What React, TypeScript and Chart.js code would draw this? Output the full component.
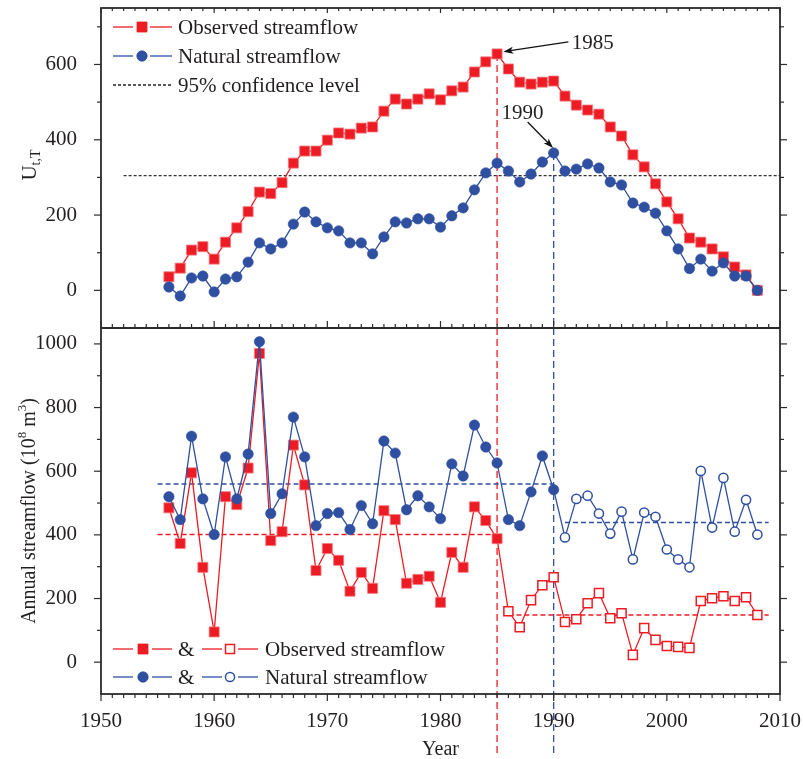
import React, { useEffect, useRef } from 'react';
import { Chart, registerables } from 'chart.js';

Chart.register(...registerables);

// ---------- data ----------
const years = [
  1956, 1957, 1958, 1959, 1960, 1961, 1962, 1963, 1964, 1965,
  1966, 1967, 1968, 1969, 1970, 1971, 1972, 1973, 1974, 1975,
  1976, 1977, 1978, 1979, 1980, 1981, 1982, 1983, 1984, 1985,
  1986, 1987, 1988, 1989, 1990, 1991, 1992, 1993, 1994, 1995,
  1996, 1997, 1998, 1999, 2000, 2001, 2002, 2003, 2004, 2005,
  2006, 2007, 2008,
];

// Mann-Kendall style statistic U(t,T)
const observedUt = [
  36, 59, 107, 116, 83, 128, 166, 209, 261, 257,
  286, 338, 370, 370, 399, 418, 415, 431, 434, 476,
  508, 495, 508, 522, 506, 530, 540, 580, 607, 628,
  588, 553, 548, 553, 556, 516, 492, 479, 468, 434,
  410, 360, 328, 283, 235, 190, 139, 128, 110, 89,
  62, 41, 0,
];
const naturalUt = [
  9, -15, 33, 38, -4, 30, 36, 75, 126, 110,
  126, 176, 208, 182, 166, 158, 126, 126, 97, 142,
  182, 179, 190, 190, 168, 198, 219, 267, 312, 338,
  317, 288, 309, 341, 365, 317, 322, 336, 325, 288,
  280, 232, 221, 205, 158, 110, 58, 83, 51, 73,
  38, 38, 0,
];

// Annual streamflow (10^8 m^3)
const observedFlow = [
  485, 373, 595, 298, 95, 520, 495, 610, 970, 382,
  410, 682, 557, 288, 357, 320, 223, 282, 232, 476,
  448, 248, 260, 270, 188, 345, 298, 488, 445, 388,
  160, 110, 195, 242, 267, 126, 135, 185, 217, 138,
  154, 23, 107, 70, 51, 48, 45, 192, 201, 207,
  192, 204, 148,
];
const naturalFlow = [
  520, 448, 710, 513, 401, 645, 513, 654, 1007, 467,
  529, 770, 645, 429, 467, 470, 417, 492, 435, 695,
  657, 479, 523, 488, 451, 623, 585, 745, 676, 626,
  448, 429, 535, 648, 542, 392, 513, 523, 467, 404,
  473, 323, 470, 457, 354, 323, 298, 601, 423, 579,
  410, 510, 401,
];

const observedBreakYear = 1985;
const naturalBreakYear = 1990;
const confidenceLevel = 305;
const confidenceSpan = [1952, 2010];

// mean levels: [startYear, endYear, value]
const observedMeanBefore = [1955, 1985, 401];
const observedMeanAfter = [1986, 2009, 148];
const naturalMeanBefore = [1955, 1990, 560];
const naturalMeanAfter = [1991, 2009, 439];

const xTickLabels = ['1950', '1960', '1970', '1980', '1990', '2000', '2010'];
const topTickLabels = ['0', '200', '400', '600'];
const bottomTickLabels = ['0', '200', '400', '600', '800', '1000'];

// ---------- styles ----------
const FONT = '"Liberation Serif", "Times New Roman", serif';
const TEXT = '#231f20';
const AXIS = '#2b2b2b';
const RED = '#ED1C24';
const BLUE = '#2F4FA0';

const pts = (vals: number[]) => years.map((y, i) => ({ x: y, y: vals[i] }));
const seg = (m: number[]) => [{ x: m[0], y: m[2] }, { x: m[1], y: m[2] }];

function drawArrow(ctx: CanvasRenderingContext2D, x1: number, y1: number, x2: number, y2: number) {
  const ang = Math.atan2(y2 - y1, x2 - x1);
  const len = 10, hw = 3.5;
  ctx.beginPath();
  ctx.moveTo(x1, y1);
  ctx.lineTo(x2 - Math.cos(ang) * len * 0.7, y2 - Math.sin(ang) * len * 0.7);
  ctx.stroke();
  ctx.beginPath();
  ctx.moveTo(x2, y2);
  ctx.lineTo(x2 - Math.cos(ang) * len + Math.sin(ang) * hw, y2 - Math.sin(ang) * len - Math.cos(ang) * hw);
  ctx.lineTo(x2 - Math.cos(ang) * len * 0.75, y2 - Math.sin(ang) * len * 0.75);
  ctx.lineTo(x2 - Math.cos(ang) * len - Math.sin(ang) * hw, y2 - Math.sin(ang) * len + Math.cos(ang) * hw);
  ctx.closePath();
  ctx.fill();
}

function drawRotated(ctx: CanvasRenderingContext2D, parts: { t: string; size: number; dy: number }[], cx: number, cy: number) {
  ctx.save();
  ctx.translate(cx, cy);
  ctx.rotate(-Math.PI / 2);
  ctx.textBaseline = 'middle';
  ctx.textAlign = 'left';
  const widths = parts.map((p) => {
    ctx.font = `${p.size}px ${FONT}`;
    return ctx.measureText(p.t).width;
  });
  let x = -widths.reduce((a, b) => a + b, 0) / 2;
  parts.forEach((p, i) => {
    ctx.font = `${p.size}px ${FONT}`;
    ctx.fillText(p.t, x, p.dy);
    x += widths[i];
  });
  ctx.restore();
}

function marker(ctx: CanvasRenderingContext2D, kind: 'rect' | 'circle', x: number, y: number, color: string, filled: boolean) {
  ctx.save();
  ctx.strokeStyle = color;
  ctx.fillStyle = filled ? color : '#fff';
  ctx.lineWidth = filled ? 0.8 : 1.5;
  ctx.setLineDash([]);
  ctx.beginPath();
  if (kind === 'rect') {
    const s = filled ? 10 : 9;
    ctx.rect(x - s / 2, y - s / 2, s, s);
  } else {
    ctx.arc(x, y, filled ? 5.2 : 4.6, 0, Math.PI * 2);
  }
  ctx.fill();
  ctx.stroke();
  ctx.restore();
}

const zeroPad = (s: any) => {
  s.paddingTop = 0;
  s.paddingBottom = 0;
  s.paddingLeft = 0;
  s.paddingRight = 0;
};

const decorPlugin = {
  id: 'decor',
  afterDraw(chart: any) {
    const ctx: CanvasRenderingContext2D = chart.ctx;
    const xs = chart.scales.x;
    const yt = chart.scales.yTop;
    const yb = chart.scales.yBot;
    const { left: L, right: R, top: T, bottom: B } = chart.chartArea;
    ctx.save();
    ctx.setLineDash([]);
    ctx.strokeStyle = AXIS;
    const line = (x1: number, y1: number, x2: number, y2: number) => {
      ctx.beginPath();
      ctx.moveTo(x1, y1);
      ctx.lineTo(x2, y2);
      ctx.stroke();
    };
    // y ticks (outward on left and right)
    ctx.lineWidth = 1.2;
    for (const s of [yt, yb]) {
      for (const t of s.ticks) {
        const v = t.value;
        if (v <= s.min || v >= s.max || v % 100 !== 0) continue;
        const p = s.getPixelForValue(v);
        const len = v % 200 === 0 ? 7 : 4;
        line(L - len, p, L, p);
        line(R, p, R + len, p);
      }
    }
    // x ticks
    for (let yr = xs.min; yr <= xs.max; yr++) {
      const p = xs.getPixelForValue(yr);
      const major = yr % 10 === 0;
      line(p, B, p, B + (major ? 7 : 4));
      line(p, yt.bottom, p, yt.bottom - (major ? 7 : 4));
      line(p, T, p, T + (major ? 5 : 3));
    }
    // frame
    ctx.lineWidth = 1.8;
    ctx.strokeRect(L, T, R - L, B - T);
    line(L, yt.bottom, R, yt.bottom);

    // y axis titles
    ctx.fillStyle = TEXT;
    drawRotated(ctx, [
      { t: 'U', size: 21, dy: 0 },
      { t: 't,T', size: 14, dy: 6 },
    ], 30, (yt.top + yt.bottom) / 2 - 3);
    drawRotated(ctx, [
      { t: 'Annual streamflow (10', size: 20, dy: 0 },
      { t: '8', size: 13, dy: -7 },
      { t: ' m', size: 20, dy: 0 },
      { t: '3', size: 13, dy: -7 },
      { t: ')', size: 20, dy: 0 },
    ], 30, (yb.top + yb.bottom) / 2);

    // annotations
    ctx.font = `21px ${FONT}`;
    ctx.textBaseline = 'alphabetic';
    ctx.textAlign = 'left';
    ctx.fillText('1985', xs.getPixelForValue(1991.6), yt.getPixelForValue(641));
    ctx.fillText('1990', xs.getPixelForValue(1985.4), yt.getPixelForValue(455));
    ctx.strokeStyle = '#111';
    ctx.fillStyle = '#111';
    ctx.lineWidth = 1.3;
    drawArrow(ctx, xs.getPixelForValue(1991.3), yt.getPixelForValue(660), xs.getPixelForValue(1985.55), yt.getPixelForValue(634));
    drawArrow(ctx, xs.getPixelForValue(1987.7), yt.getPixelForValue(447), xs.getPixelForValue(1989.95), yt.getPixelForValue(378));

    // legends
    ctx.fillStyle = TEXT;
    ctx.font = `21px ${FONT}`;
    const lx = L + 12;
    const legendLine = (x1: number, x2: number, y: number, color: string, dash: number[] = []) => {
      ctx.save();
      ctx.strokeStyle = color;
      ctx.lineWidth = 1.3;
      ctx.setLineDash(dash);
      line(x1, y, x2, y);
      ctx.restore();
    };
    const r1 = T + 19, r2 = T + 48, r3 = T + 77;
    legendLine(lx, lx + 20, r1, RED); legendLine(lx + 37, lx + 59, r1, RED);
    marker(ctx, 'rect', lx + 29, r1, RED, true);
    ctx.fillText('Observed streamflow', lx + 65, r1 + 7);
    legendLine(lx, lx + 20, r2, BLUE); legendLine(lx + 37, lx + 59, r2, BLUE);
    marker(ctx, 'circle', lx + 29, r2, BLUE, true);
    ctx.fillText('Natural streamflow', lx + 65, r2 + 7);
    legendLine(lx, lx + 59, r3, '#222', [3, 2]);
    ctx.fillText('95% confidence level', lx + 65, r3 + 7);

    const b1 = yb.bottom - 45, b2 = yb.bottom - 17;
    const comboRow = (y: number, color: string, kind: 'rect' | 'circle', label: string) => {
      legendLine(lx, lx + 20, y, color); legendLine(lx + 39, lx + 59, y, color);
      marker(ctx, kind, lx + 30, y, color, true);
      ctx.fillStyle = TEXT;
      ctx.fillText('&', lx + 65, y + 7);
      legendLine(lx + 89, lx + 109, y, color); legendLine(lx + 125, lx + 145, y, color);
      marker(ctx, kind, lx + 117, y, color, false);
      ctx.fillStyle = TEXT;
      ctx.fillText(label, lx + 152, y + 7);
    };
    comboRow(b1, RED, 'rect', 'Observed streamflow');
    comboRow(b2, BLUE, 'circle', 'Natural streamflow');
    ctx.restore();
  },
};

export default function App() {
  const ref = useRef<HTMLCanvasElement>(null);
  useEffect(() => {
    const canvas = ref.current;
    if (!canvas) return;
    const dashedVertical = (x: number, y1: number, y2: number, color: string, axis: string, clip: boolean) => ({
      type: 'line' as const,
      yAxisID: axis,
      data: [{ x, y: y1 }, { x, y: y2 }],
      borderColor: color,
      borderWidth: 1.3,
      borderDash: [7, 4],
      pointRadius: 0,
      order: 6,
      clip: clip ? undefined : false,
    });
    const meanLine = (m: number[], color: string) => ({
      type: 'line' as const,
      yAxisID: 'yBot',
      data: seg(m),
      borderColor: color,
      borderWidth: 1.5,
      borderDash: [5, 3],
      pointRadius: 0,
      order: 5,
    });
    const yTicks = (labels: string[]) => ({
      stepSize: 100,
      autoSkip: false,
      includeBounds: false,
      padding: 16,
      color: TEXT,
      font: { family: FONT, size: 21 },
      callback: (v: any) => (labels.includes(String(v)) ? String(v) : ''),
    });
    const chart = new Chart(canvas, {
      type: 'line',
      data: {
        datasets: [
          {
            yAxisID: 'yTop',
            data: pts(naturalUt),
            borderColor: BLUE,
            borderWidth: 1.3,
            pointStyle: 'circle',
            pointRadius: 5.2,
            pointBackgroundColor: BLUE,
            pointBorderColor: BLUE,
            pointBorderWidth: 0.6,
            order: 1,
          },
          {
            yAxisID: 'yTop',
            data: pts(observedUt),
            borderColor: RED,
            borderWidth: 1.3,
            pointStyle: 'rect',
            pointRadius: 7.1,
            pointBackgroundColor: RED,
            pointBorderColor: '#f3787d',
            pointBorderWidth: 0.8,
            order: 2,
          },
          {
            yAxisID: 'yTop',
            data: [{ x: confidenceSpan[0], y: confidenceLevel }, { x: confidenceSpan[1], y: confidenceLevel }],
            borderColor: '#333',
            borderWidth: 1.2,
            borderDash: [3, 2],
            pointRadius: 0,
            order: 5,
          },
          dashedVertical(observedBreakYear, observedUt[years.indexOf(observedBreakYear)], -100, RED, 'yTop', true),
          dashedVertical(naturalBreakYear, naturalUt[years.indexOf(naturalBreakYear)], -100, BLUE, 'yTop', true),
          {
            yAxisID: 'yBot',
            data: pts(naturalFlow),
            borderColor: BLUE,
            borderWidth: 1.3,
            pointStyle: 'circle',
            pointRadius: (c: any) => (c.raw && c.raw.x > naturalBreakYear ? 4.6 : 5.2),
            pointBackgroundColor: (c: any) => (c.raw && c.raw.x > naturalBreakYear ? '#fff' : BLUE),
            pointBorderColor: BLUE,
            pointBorderWidth: (c: any) => (c.raw && c.raw.x > naturalBreakYear ? 1.5 : 0.6),
            order: 1,
          },
          {
            yAxisID: 'yBot',
            data: pts(observedFlow),
            borderColor: RED,
            borderWidth: 1.3,
            pointStyle: 'rect',
            pointRadius: (c: any) => (c.raw && c.raw.x > observedBreakYear ? 6.4 : 7.1),
            pointBackgroundColor: (c: any) => (c.raw && c.raw.x > observedBreakYear ? '#fff' : RED),
            pointBorderColor: (c: any) => (c.raw && c.raw.x > observedBreakYear ? RED : '#f3787d'),
            pointBorderWidth: (c: any) => (c.raw && c.raw.x > observedBreakYear ? 1.5 : 0.8),
            order: 2,
          },
          meanLine(observedMeanBefore, RED),
          meanLine(observedMeanAfter, RED),
          meanLine(naturalMeanBefore, BLUE),
          meanLine(naturalMeanAfter, BLUE),
          dashedVertical(observedBreakYear, 1050, -290, RED, 'yBot', false),
          dashedVertical(naturalBreakYear, 1050, -290, BLUE, 'yBot', false),
        ] as any,
      },
      options: {
        responsive: false,
        animation: false,
        events: [],
        layout: { padding: { left: 0, right: 23, top: 8, bottom: 0 } },
        plugins: { legend: { display: false }, tooltip: { enabled: false } },
        scales: {
          x: {
            type: 'linear',
            position: 'bottom',
            min: 1950,
            max: 2010,
            grid: { display: false },
            border: { display: false },
            ticks: {
              stepSize: 10,
              autoSkip: false,
              maxRotation: 0,
              padding: 7,
              color: TEXT,
              font: { family: FONT, size: 21 },
              callback: (v: any) => {
                const s = String(v);
                return xTickLabels.includes(s) ? s : '';
              },
            },
            title: {
              display: true,
              text: 'Year',
              color: TEXT,
              font: { family: FONT, size: 20 },
              padding: { top: 0, bottom: -3 },
            },
            afterFit: (s: any) => { s.height = 65; zeroPad(s); },
          },
          yTop: {
            type: 'linear',
            position: 'left',
            stack: 'panels',
            stackWeight: 320,
            weight: 1,
            min: -100,
            max: 750,
            grid: { display: false },
            border: { display: false },
            ticks: yTicks(topTickLabels),
            afterFit: (s: any) => { s.width = 101; zeroPad(s); },
          },
          yBot: {
            type: 'linear',
            position: 'left',
            stack: 'panels',
            stackWeight: 366,
            weight: 0,
            min: -100,
            max: 1050,
            grid: { display: false },
            border: { display: false },
            ticks: yTicks(bottomTickLabels),
            afterFit: (s: any) => { s.width = 101; zeroPad(s); },
          },
        },
      } as any,
      plugins: [decorPlugin],
    });
    return () => chart.destroy();
  }, []);
  return (
    <div style={{ position: 'absolute', left: 0, top: 0, width: 803, height: 759, background: '#fff' }}>
      <canvas ref={ref} width={803} height={759} style={{ display: 'block', width: 803, height: 759 }} />
    </div>
  );
}
